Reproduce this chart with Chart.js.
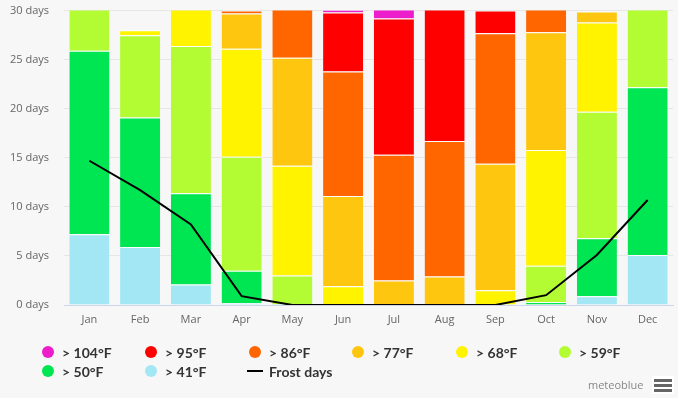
<!DOCTYPE html>
<html>
<head>
<meta charset="utf-8">
<script src="https://cdn.jsdelivr.net/npm/chart.js@4.4.1/dist/chart.umd.min.js"></script>
<style>
  body { margin: 0; background: #f7f7f7; }
  #wrap { position: relative; width: 678px; height: 398px; background: #f7f7f7; overflow: hidden; }
  #chart { position: absolute; left: 0; top: -11px; }
  .item { position: absolute; display: flex; align-items: center; height: 16px;
          font: bold 14px Lato, "Liberation Sans", sans-serif; color: #333; white-space: nowrap; }
  .dot { width: 12px; height: 12px; border-radius: 50%; margin-right: 8px; }
  .dash { width: 16px; height: 2px; background: #000; margin-right: 6px; }
  #credit { position: absolute; left: 588px; top: 377px; font: 11px "Open Sans", sans-serif; color: #888; }
  #menu { position: absolute; left: 652px; top: 376px; width: 22px; height: 18px; background: #fff; }
  #menu div { position: absolute; left: 2px; width: 18px; height: 3px; background: #666; }
</style>
</head>
<body>
<div id="wrap">
  <canvas id="chart" width="678" height="409"></canvas>
  <div id="legend"></div>
  <div id="credit">meteoblue</div>
  <div id="menu"><div style="top:3px"></div><div style="top:8px"></div><div style="top:13px"></div></div>
</div>
<script>
const months = ["Jan", "Feb", "Mar", "Apr", "May", "Jun", "Jul", "Aug", "Sep", "Oct", "Nov", "Dec"];

// days per month in each temperature class (stacked from the bottom up)
const gt41 = [7.2, 5.9, 2.1, 0.2, 0, 0, 0, 0, 0, 0, 0.9, 5.1];
const gt50 = [18.7, 13.2, 9.3, 3.3, 0.1, 0, 0, 0, 0, 0.3, 5.9, 17.1];
const gt59 = [5.1, 8.4, 15.0, 11.6, 2.9, 0, 0, 0, 0, 3.7, 12.9, 8.8];
const gt68 = [0, 0.5, 4.6, 11.0, 11.2, 1.9, 0, 0, 1.5, 11.8, 9.1, 0];
const gt77 = [0, 0, 0, 3.6, 11.0, 9.2, 2.5, 2.9, 12.9, 12.0, 1.1, 0];
const gt86 = [0, 0, 0, 0.3, 5.8, 12.7, 12.8, 13.8, 13.3, 3.2, 0, 0];
const gt95 = [0, 0, 0, 0, 0, 6.0, 13.9, 14.3, 2.3, 0, 0, 0];
const gt104 = [0, 0, 0, 0, 0, 0.3, 1.8, 0, 0, 0, 0, 0];
const frostDays = [14.7, 11.7, 8.2, 0.9, 0, 0, 0, 0, 0, 1.0, 5.1, 10.7];

const yTicks = [0, 5, 10, 15, 20, 25, 30];

// legend order (as shown) and colours
const classLabels = ["> 104°F", "> 95°F", "> 86°F", "> 77°F", "> 68°F", "> 59°F", "> 50°F", "> 41°F"];
const classColors = ["#ec1ecc", "#ff0000", "#ff6600", "#ffc60f", "#fff300", "#b3fc33", "#00e552", "#a3e7f4"];
const classData = [gt104, gt95, gt86, gt77, gt68, gt59, gt50, gt41];

// bars: bottom class first
const barSets = [];
for (let i = classData.length - 1; i >= 0; i--) {
  barSets.push({
    type: "bar",
    label: classLabels[i],
    data: classData[i],
    backgroundColor: classColors[i],
    borderColor: "#ffffff",
    borderWidth: { top: 1, left: 0, right: 0, bottom: 0 },
    stack: "temp",
    barPercentage: 0.79,
    categoryPercentage: 1
  });
}

// canvas is 11px taller and shifted up: chart.js keeps ~21px above the plot
new Chart(document.getElementById("chart"), {
  data: {
    labels: months,
    datasets: [
      {
        type: "line",
        label: "Frost days",
        data: frostDays,
        borderColor: "#000",
        borderWidth: 2,
        pointRadius: 0,
        tension: 0,
        stack: "frost",
        order: -1
      },
      ...barSets
    ]
  },
  options: {
    responsive: false,
    animation: false,
    layout: { autoPadding: false, padding: { left: 0, top: 11, right: 5, bottom: 68 } },
    plugins: { legend: { display: false }, tooltip: { enabled: false } },
    scales: {
      x: {
        stacked: true,
        grid: { display: false, drawTicks: false },
        border: { color: "#ccd6eb" },
        ticks: { color: "#666", font: { family: "Open Sans", size: 11 }, padding: 8 },
        afterFit: s => { s.height = 25; }
      },
      y: {
        stacked: true,
        min: 0,
        max: 30,
        afterBuildTicks: s => { s.ticks = yTicks.map(v => ({ value: v })); },
        grid: { color: "#e6e6e6", drawTicks: false },
        border: { display: false },
        ticks: { color: "#666", font: { family: "Open Sans", size: 11 }, padding: 15,
                 callback: v => v + " days" },
        afterFit: s => { s.width = 64; }
      }
    }
  }
});

// legend laid out in fixed columns like the original
const legend = document.getElementById("legend");
const colX = [48, 151, 255, 358, 462, 565];
const rowY = [352, 371];
const items = classLabels.map((l, i) => ({ label: l, color: classColors[i] }));
items.push({ label: "Frost days", line: true });
items.forEach((it, i) => {
  const cx = colX[i % 6], cy = rowY[Math.floor(i / 6)];
  const el = document.createElement("div");
  el.className = "item";
  el.style.top = (cy - 8) + "px";
  if (it.line) {
    el.style.left = (cx - 8) + "px";
    el.innerHTML = '<span class="dash"></span><span>' + it.label + '</span>';
  } else {
    el.style.left = (cx - 6) + "px";
    el.innerHTML = '<span class="dot" style="background:' + it.color + '"></span><span>' + it.label + '</span>';
  }
  legend.appendChild(el);
});
</script>
</body>
</html>
